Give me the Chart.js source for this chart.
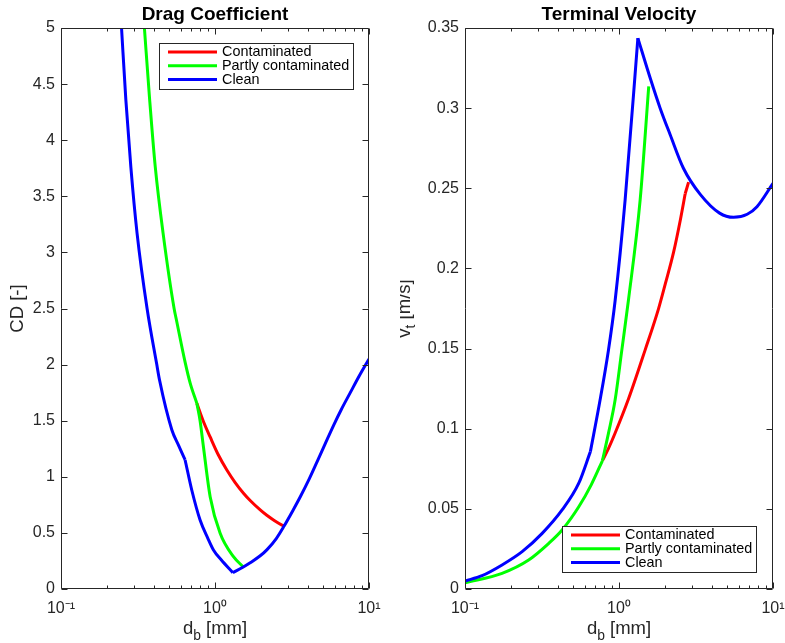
<!DOCTYPE html>
<html>
<head>
<meta charset="utf-8">
<script src="https://cdn.jsdelivr.net/npm/chart.js@4/dist/chart.umd.min.js"></script>
<style>
  html, body { margin: 0; padding: 0; background: #fff; overflow: hidden; }
  canvas { position: absolute; top: 0; }
  #cd-canvas { left: 0; }
  #vt-canvas { left: 400px; }
</style>
</head>
<body>
<canvas id="cd-canvas" width="400" height="643"></canvas>
<canvas id="vt-canvas" width="395" height="643"></canvas>
<script>
// series names and colours (legend order)
var seriesNames = ['Contaminated', 'Partly contaminated', 'Clean'];
var seriesColors = ['#ff0000', '#00ff00', '#0000ff'];

// log x axis: all tick positions, and the labelled decades
var xTickValues = [0.1, 0.2, 0.3, 0.4, 0.5, 0.6, 0.7, 0.8, 0.9, 1, 2, 3, 4, 5, 6, 7, 8, 9, 10];
var xMajorTicks = [0.1, 1, 10];
var xMajorLabels = ['10\u207B\u00B9', '10\u2070', '10\u00B9'];

// drag coefficient panel, d_b in mm
var dContaminatedCD = [0.762, 0.841, 0.93, 1.048, 1.194, 1.352, 1.531, 1.692, 1.966, 2.17, 2.424, 2.72, 2.815];
var cdContaminated = [1.655, 1.493, 1.355, 1.199, 1.061, 0.949, 0.854, 0.789, 0.705, 0.657, 0.611, 0.570, 0.561];
var dPartlyCD = [0.348, 0.3765, 0.4095, 0.4603, 0.5425, 0.5614, 0.64, 0.69, 0.762, 0.80, 0.841, 0.93, 1.08, 1.318, 1.517];
var cdPartly = [5.0, 4.36, 3.76, 3.17, 2.50, 2.40, 2.02, 1.835, 1.655, 1.50, 1.268, 0.823, 0.496, 0.288, 0.200];
var dCleanCD = [0.2472, 0.2637, 0.2842, 0.3119, 0.3622, 0.4188, 0.4367, 0.5241, 0.58, 0.6397, 0.707, 0.80, 0.90, 0.977, 1.10, 1.306, 1.517, 1.692, 1.966, 2.17, 2.50, 2.79, 3.20, 3.58, 4.10, 4.59, 5.20, 5.89, 6.60, 7.56, 8.60, 10];
var cdClean = [5.0, 4.36, 3.76, 3.17, 2.50, 2.00, 1.86, 1.42, 1.28, 1.15, 0.88, 0.615, 0.45, 0.348, 0.258, 0.145, 0.194, 0.234, 0.296, 0.349, 0.450, 0.554, 0.698, 0.822, 0.984, 1.131, 1.296, 1.459, 1.598, 1.750, 1.894, 2.050];
// diameters where a curve has a corner
var kinksContaminatedCD = [];
var kinksPartlyCD = [0.762];
var kinksCleanCD = [0.6397, 1.306];

// terminal velocity panel, v_t in m/s
var dContaminatedVt = [0.78, 0.855, 0.944, 1.152, 1.479, 1.805, 2.0, 2.26, 2.50, 2.69, 2.83];
var vtContaminated = [0.0800, 0.0877, 0.0973, 0.1185, 0.1492, 0.1748, 0.1905, 0.2100, 0.2301, 0.2466, 0.2538];
var dPartlyVt = [0.1, 0.174, 0.259, 0.35, 0.427, 0.548, 0.66, 0.78, 0.854, 0.944, 1.043, 1.152, 1.372, 1.56];
var vtPartly = [0.0039, 0.0098, 0.0181, 0.0285, 0.0368, 0.0513, 0.065, 0.080, 0.0971, 0.118, 0.149, 0.1803, 0.2427, 0.3136];
var dCleanVt = [0.1, 0.129, 0.174, 0.235, 0.317, 0.427, 0.548, 0.652, 0.754, 0.854, 0.944, 1.096, 1.326, 1.594, 1.85, 2.15, 2.62, 3.37, 4.5, 5.55, 6.8, 7.87, 10];
var vtClean = [0.005, 0.0083, 0.015, 0.0233, 0.0347, 0.0493, 0.066, 0.0857, 0.118, 0.149, 0.180, 0.2427, 0.3437, 0.3188, 0.300, 0.2834, 0.2625, 0.2462, 0.2345, 0.2319, 0.2338, 0.2385, 0.2531];
var kinksContaminatedVt = [2.69];
var kinksPartlyVt = [0.78];
var kinksCleanVt = [0.652, 1.326];

var FONT = "'Liberation Sans', Arial, Helvetica, sans-serif";
var AXIS_COLOR = '#262626';
Chart.defaults.font.family = FONT;
Chart.defaults.color = AXIS_COLOR;

// cut a curve into smooth pieces at its corners; the corner point is shared
function pieces(xs, ys, kinks) {
    var out = [], cur = [];
    for (var i = 0; i < xs.length; i++) {
        cur.push({ x: xs[i], y: ys[i] });
        if (kinks.indexOf(xs[i]) >= 0 && i > 0 && i < xs.length - 1) {
            out.push(cur);
            cur = [{ x: xs[i], y: ys[i] }];
        }
    }
    out.push(cur);
    return out;
}

// text with an optional subscript piece, centred on the origin
function drawLabel(ctx, parts, size) {
    var widths = parts.map(function (p) {
        ctx.font = (p.sub ? size * 0.75 : size) + 'px ' + FONT;
        return ctx.measureText(p.text).width;
    });
    var total = widths.reduce(function (a, b) { return a + b; }, 0);
    var x = -total / 2;
    parts.forEach(function (p, i) {
        ctx.font = (p.sub ? size * 0.75 : size) + 'px ' + FONT;
        ctx.fillText(p.text, x, p.sub ? size * 0.3 : 0);
        x += widths[i];
    });
}

// matlab look: boxed axes with inward ticks, sub-scripted axis titles, boxed legend
var matlabAxes = {
    id: 'matlabAxes',
    afterDatasetsDraw: function (chart, args, opts) {
        var ctx = chart.ctx, a = chart.chartArea;
        var xs = chart.scales.x, ys = chart.scales.y;
        var L = Math.round(a.left) + 0.5, R = Math.round(a.right) - 0.5;
        var T = Math.round(a.top) + 0.5, B = Math.round(a.bottom) - 0.5;

        ctx.save();
        ctx.strokeStyle = AXIS_COLOR;
        ctx.lineWidth = 1;
        ctx.beginPath();
        xs.ticks.forEach(function (t) {
            var px = Math.round(xs.getPixelForValue(t.value)) + 0.5;
            var len = t.label ? 6 : 3;
            ctx.moveTo(px, B); ctx.lineTo(px, B - len);
            ctx.moveTo(px, T); ctx.lineTo(px, T + len);
        });
        ys.ticks.forEach(function (t) {
            var py = Math.round(ys.getPixelForValue(t.value)) + 0.5;
            ctx.moveTo(L, py); ctx.lineTo(L + 6, py);
            ctx.moveTo(R, py); ctx.lineTo(R - 6, py);
        });
        ctx.rect(L, T, R - L, B - T);
        ctx.stroke();

        // axis titles
        ctx.fillStyle = AXIS_COLOR;
        ctx.textAlign = 'left';
        ctx.textBaseline = 'alphabetic';
        ctx.save();
        ctx.translate((a.left + a.right) / 2, a.bottom + opts.xTitleOffset);
        drawLabel(ctx, opts.xTitle, 18.5);
        ctx.restore();
        ctx.save();
        ctx.translate(a.left - opts.yTitleOffset, (a.top + a.bottom) / 2);
        ctx.rotate(-Math.PI / 2);
        drawLabel(ctx, opts.yTitle, 18.5);
        ctx.restore();

        // legend
        ctx.font = '14.4px ' + FONT;
        var textW = 0;
        seriesNames.forEach(function (n) { textW = Math.max(textW, ctx.measureText(n).width); });
        var w = Math.round(9 + 49 + 5 + textW + 4), h = 46;
        var x0 = Math.round(a.left + opts.legend.left);
        var y0 = opts.legend.top != null ? Math.round(a.top + opts.legend.top)
                                         : Math.round(a.bottom - opts.legend.bottom - h);
        ctx.fillStyle = '#fff';
        ctx.fillRect(x0, y0, w, h);
        ctx.strokeStyle = AXIS_COLOR;
        ctx.lineWidth = 1;
        ctx.strokeRect(x0 + 0.5, y0 + 0.5, w, h);
        ctx.textBaseline = 'middle';
        seriesNames.forEach(function (n, i) {
            var yy = y0 + 9 + i * 13.8;
            ctx.strokeStyle = seriesColors[i];
            ctx.lineWidth = 3;
            ctx.beginPath();
            ctx.moveTo(x0 + 9, yy); ctx.lineTo(x0 + 58, yy);
            ctx.stroke();
            ctx.fillStyle = '#000';
            ctx.fillText(n, x0 + 63, yy);
        });
        ctx.restore();
    }
};

function makeChart(canvasId, cfg) {
    var sets = [];
    cfg.series.forEach(function (s, i) {
        pieces(s[0], s[1], s[2]).forEach(function (pts) {
            sets.push({
                label: seriesNames[i],
                data: pts,
                borderColor: seriesColors[i],
                backgroundColor: seriesColors[i],
                borderWidth: 3,
                borderJoinStyle: 'round',
                pointRadius: 0,
                cubicInterpolationMode: 'monotone',
                fill: false,
                order: 3 - i   // clean drawn last, on top
            });
        });
    });
    return new Chart(document.getElementById(canvasId), {
        type: 'line',
        data: { datasets: sets },
        plugins: [matlabAxes],
        options: {
            responsive: false,
            animation: false,
            events: [],
            layout: { padding: { left: 0, right: cfg.padRight, top: 0, bottom: 0 } },
            scales: {
                x: {
                    type: 'logarithmic',
                    min: 0.1,
                    max: 10,
                    grid: { display: false, drawTicks: false },
                    border: { display: false },
                    afterBuildTicks: function (s) {
                        s.ticks = xTickValues.map(function (v) { return { value: v }; });
                    },
                    afterFit: function (s) { s.height = 54; },
                    ticks: {
                        autoSkip: false,
                        maxRotation: 0,
                        padding: 10,
                        font: { size: 16 },
                        callback: function (v) {
                            for (var i = 0; i < xMajorTicks.length; i++) {
                                if (Math.abs(v - xMajorTicks[i]) < 1e-9) return xMajorLabels[i];
                            }
                            return '';
                        }
                    }
                },
                y: {
                    min: 0,
                    max: cfg.yMax,
                    grid: { display: false, drawTicks: false },
                    border: { display: false },
                    afterFit: function (s) { s.width = cfg.yWidth; },
                    ticks: {
                        stepSize: cfg.yStep,
                        padding: 6,
                        font: { size: 16 },
                        callback: function (v) { return String(+v.toFixed(3)); }
                    }
                }
            },
            plugins: {
                legend: { display: false },
                tooltip: { enabled: false },
                title: {
                    display: true,
                    text: cfg.title,
                    color: '#000',
                    fullSize: false,
                    font: { size: 19, weight: 'bold' },
                    padding: { top: 3, bottom: 2.2 }
                },
                matlabAxes: {
                    xTitle: [{ text: 'd' }, { text: 'b', sub: true }, { text: ' [mm]' }],
                    xTitleOffset: 45,
                    yTitle: cfg.yTitle,
                    yTitleOffset: cfg.yTitleOffset,
                    legend: cfg.legend
                }
            }
        }
    });
}

makeChart('cd-canvas', {
    title: 'Drag Coefficient',
    series: [[dContaminatedCD, cdContaminated, kinksContaminatedCD],
             [dPartlyCD, cdPartly, kinksPartlyCD],
             [dCleanCD, cdClean, kinksCleanCD]],
    yMax: 5,
    yStep: 0.5,
    yWidth: 61,
    padRight: 31,
    yTitle: [{ text: 'CD [-]' }],
    yTitleOffset: 38,
    legend: { left: 98, top: 15 }
});

makeChart('vt-canvas', {
    title: 'Terminal Velocity',
    series: [[dContaminatedVt, vtContaminated, kinksContaminatedVt],
             [dPartlyVt, vtPartly, kinksPartlyVt],
             [dCleanVt, vtClean, kinksCleanVt]],
    yMax: 0.35,
    yStep: 0.05,
    yWidth: 65,
    padRight: 22,
    yTitle: [{ text: 'v' }, { text: 't', sub: true }, { text: ' [m/s]' }],
    yTitleOffset: 55.5,
    legend: { left: 97, bottom: 17 }
});
</script>
</body>
</html>
